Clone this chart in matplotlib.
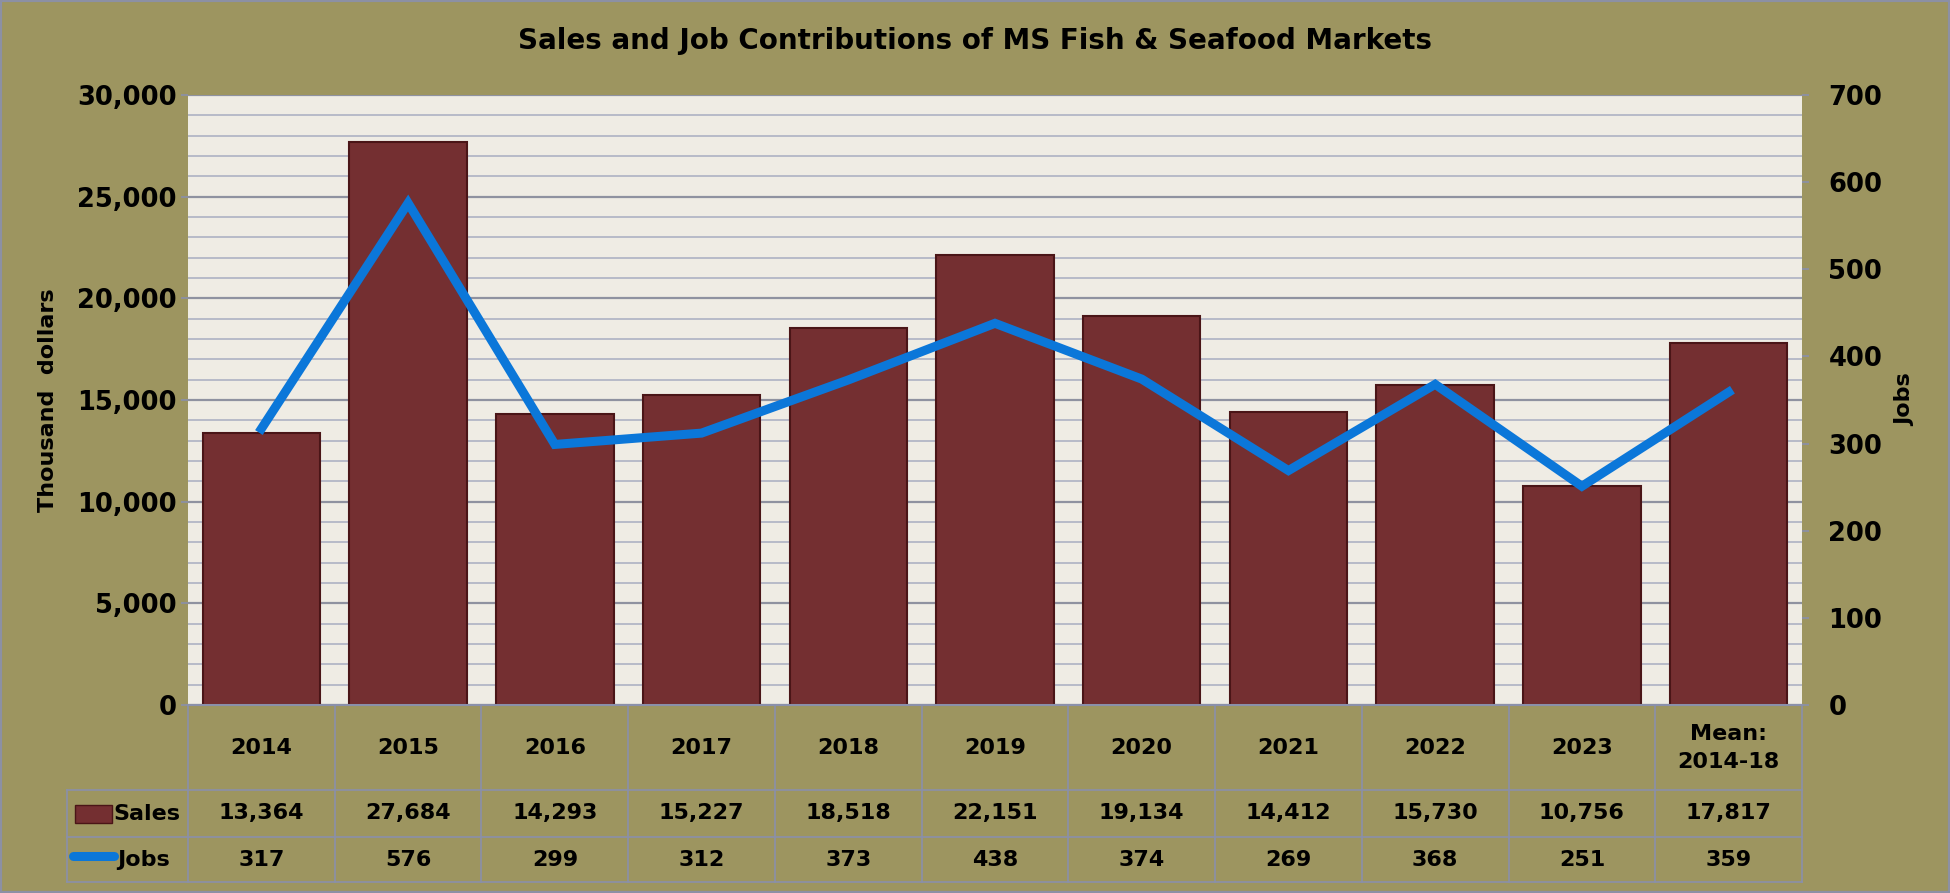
import numpy as np
import matplotlib
matplotlib.use("Agg")
import matplotlib.pyplot as plt
from matplotlib.lines import Line2D
from matplotlib.patches import Rectangle

# Data
categories = ["2014", "2015", "2016", "2017", "2018", "2019", "2020",
              "2021", "2022", "2023", "Mean:\n2014-18"]
sales = [13364, 27684, 14293, 15227, 18518, 22151, 19134, 14412, 15730, 10756, 17817]
jobs = [317, 576, 299, 312, 373, 438, 374, 269, 368, 251, 359]

BG = "#9d9560"
PLOT_BG = "#efece4"
BAR = "#742f31"
BAR_EDGE = "#4a1517"
BLUE = "#0b77d9"
GRID = "#b3b6c6"
TABLE_LINE = "#8a90aa"
FONT = "DejaVu Sans"
FS = 16      # table text
FS_TICK = 18.5

plt.rcParams["font.family"] = FONT
plt.rcParams["font.weight"] = "bold"

W, H = 1950, 893
fig = plt.figure(figsize=(W / 100, H / 100), dpi=100, facecolor=BG)

# plot area in pixels
L, R, T, B = 188, 1802, 95, 705
ax = fig.add_axes([L / W, 1 - B / H, (R - L) / W, (B - T) / H])
ax.set_facecolor(PLOT_BG)

x = np.arange(len(categories))
ax.set_xlim(-0.5, len(categories) - 0.5)
ax.set_ylim(0, 30000)

# gridlines
ax.set_yticks(np.arange(0, 30001, 5000))
ax.set_yticks(np.arange(0, 30001, 1000), minor=True)
ax.grid(which="minor", axis="y", color=GRID, lw=1.3, zorder=0)
ax.grid(which="major", axis="y", color="#8f92a0", lw=1.6, zorder=0)
ax.set_axisbelow(True)

ax.bar(x, sales, width=0.8, color=BAR, edgecolor=BAR_EDGE, linewidth=1.5, zorder=2)

ax.tick_params(axis="y", which="major", length=5, width=1.2, color=TABLE_LINE,
               labelsize=FS_TICK, pad=3)
ax.tick_params(axis="y", which="minor", length=0)
ax.set_yticklabels([f"{v:,}" for v in range(0, 30001, 5000)],
                   fontsize=FS_TICK, fontweight="bold")
ax.set_xticks([])
for s in ["top", "right", "left"]:
    ax.spines[s].set_visible(False)
ax.spines["bottom"].set_color(TABLE_LINE)
ax.spines["bottom"].set_linewidth(1.5)
ax.set_ylabel("Thousand  dollars", fontsize=FS, fontweight="bold")
ax.yaxis.set_label_coords((58 - L) / (R - L), 0.5 + (400 - (T + B) / 2) / (B - T) * -1)

ax2 = ax.twinx()
ax2.set_ylim(0, 700)
ax2.set_yticks(np.arange(0, 701, 100))
ax2.plot(x, jobs, color=BLUE, lw=6.5, solid_joinstyle="miter", zorder=3)
ax2.tick_params(axis="y", length=5, width=1.2, color=TABLE_LINE, labelsize=FS_TICK, pad=14)
ax2.set_yticklabels([str(v) for v in range(0, 701, 100)],
                    fontsize=FS_TICK, fontweight="bold")
for s in ax2.spines.values():
    s.set_visible(False)
ax2.set_ylabel("Jobs", fontsize=FS, fontweight="bold", rotation=90)
ax2.yaxis.set_label_coords((1895 - L) / (R - L), 0.5)

# data table below the plot
def fx(px):
    return (px - L) / (R - L)

def fy(py):
    return (B - py) / (B - T)

n = len(categories)
row_hdr = (705, 790)
row_sales = (790, 837)
row_jobs = (837, 882)
tl_left = 67

kw = dict(transform=ax.transAxes, clip_on=False)
# horizontal lines
for yy in (row_sales[0], row_jobs[0], row_jobs[1]):
    ax.add_line(Line2D([fx(tl_left), 1], [fy(yy)] * 2, color=TABLE_LINE, lw=1.2, **kw))
# vertical lines
for i in range(n + 1):
    ax.add_line(Line2D([i / n, i / n], [0, fy(row_jobs[1])], color=TABLE_LINE, lw=1.2, **kw))
ax.add_line(Line2D([fx(tl_left)] * 2, [fy(row_sales[0]), fy(row_jobs[1])],
                   color=TABLE_LINE, lw=1.2, **kw))

ymid_hdr = fy(sum(row_hdr) / 2)
ymid_sales = fy(sum(row_sales) / 2)
ymid_jobs = fy(sum(row_jobs) / 2)
for i, cat in enumerate(categories):
    cx = (i + 0.5) / n
    ax.text(cx, ymid_hdr, cat, ha="center", va="center", fontsize=FS,
            fontweight="bold", linespacing=1.5, **kw)
    ax.text(cx, ymid_sales, f"{sales[i]:,}", ha="center", va="center",
            fontsize=FS, fontweight="bold", **kw)
    ax.text(cx, ymid_jobs, f"{jobs[i]}", ha="center", va="center",
            fontsize=FS, fontweight="bold", **kw)

# legend keys inside the table
ax.add_patch(Rectangle((fx(75), fy(823)), fx(112) - fx(75), fy(805) - fy(823),
                       facecolor=BAR, edgecolor=BAR_EDGE, lw=1, **kw))
ax.text(fx(113), ymid_sales, "Sales", ha="left", va="center", fontsize=FS,
        fontweight="bold", **kw)
ax.add_line(Line2D([fx(73), fx(114)], [fy(856)] * 2, color=BLUE, lw=6.5,
                   solid_capstyle="round", **kw))
ax.text(fx(117), ymid_jobs, "Jobs", ha="left", va="center", fontsize=FS,
        fontweight="bold", **kw)

fig.text(0.5, 1 - 41 / H, "Sales and Job Contributions of MS Fish & Seafood Markets",
         ha="center", va="center", fontsize=20, fontweight="bold")

# outer border
fig.patches.append(Rectangle((0, 0), 1, 1, transform=fig.transFigure, fill=False,
                             edgecolor="#8c90a4", lw=3))

fig.savefig("out.png", dpi=100, facecolor=BG)
